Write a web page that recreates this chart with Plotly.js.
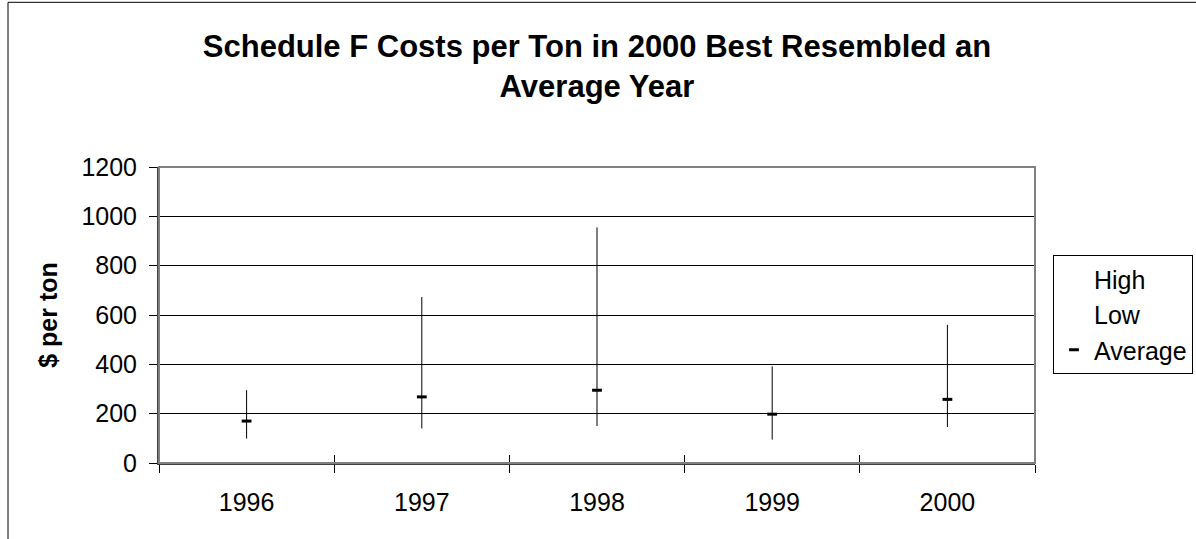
<!DOCTYPE html>
<html>
<head>
<meta charset="utf-8">
<script src="https://cdn.plot.ly/plotly-3.0.1.min.js"></script>
<style>
  html, body { margin: 0; padding: 0; background: #ffffff; }
  #chart { width: 1196px; height: 539px; }
</style>
</head>
<body>
<div id="chart"></div>
<script>
// Data
const years = ['1996', '1997', '1998', '1999', '2000'];
const highValues = [295, 673, 955, 392, 560];
const lowValues = [99, 140, 150, 95, 146];
const averageValues = [170, 268, 295, 198, 258];
const yTickValues = [0, 200, 400, 600, 800, 1000, 1200];

const FONT = 'Arial, "Liberation Sans", sans-serif';

// Build high-low connector segments from the arrays
const segX = [], segY = [];
years.forEach((yr, i) => {
  segX.push(yr, yr, null);
  segY.push(lowValues[i], highValues[i], null);
});

const traces = [
  {
    x: segX, y: segY, type: 'scatter', mode: 'lines',
    line: { color: '#000000', width: 1 },
    showlegend: false, hoverinfo: 'skip'
  },
  {
    name: 'High', x: years, y: highValues, type: 'scatter', mode: 'markers',
    xaxis: 'x2',
    marker: { size: 6, color: 'rgba(0,0,0,0)', line: { width: 0 } }
  },
  {
    name: 'Low', x: years, y: lowValues, type: 'scatter', mode: 'markers',
    marker: { size: 6, color: 'rgba(0,0,0,0)', line: { width: 0 } }
  },
  {
    name: 'Average', x: years, y: averageValues, type: 'scatter', mode: 'markers',
    marker: { symbol: 'line-ew', size: 7, color: '#000000', line: { color: '#000000', width: 3 } }
  }
];

const xCommon = {
  type: 'category',
  categoryorder: 'array', categoryarray: years,
  range: [-0.5, 4.5],
  showgrid: false, zeroline: false,
  tickson: 'boundaries', ticklen: 8, tickwidth: 1, tickcolor: '#000000',
  fixedrange: true
};

const layout = {
  width: 1196, height: 539,
  paper_bgcolor: '#ffffff', plot_bgcolor: '#ffffff',
  margin: { l: 159, r: 161, t: 167, b: 76 },
  font: { family: FONT, color: '#000000', size: 24 },
  title: {
    text: '<b>Schedule F Costs per Ton in 2000 Best Resembled an<br>Average Year</b>',
    font: { family: FONT, size: 31, color: '#000000' },
    x: 0.5, xref: 'paper', xanchor: 'center',
    y: 1 - 57 / 539, yref: 'container', yanchor: 'top'
  },
  xaxis: Object.assign({}, xCommon, {
    showline: true, linecolor: '#404040', linewidth: 2,
    ticks: 'outside', ticklabelstandoff: 16,
    tickfont: { family: FONT, size: 25, color: '#000000' }
  }),
  xaxis2: Object.assign({}, xCommon, {
    overlaying: 'x', anchor: 'y', side: 'bottom',
    showline: false, ticks: 'inside', showticklabels: false
  }),
  yaxis: {
    range: [0, 1200],
    tickvals: yTickValues,
    ticktext: yTickValues.map(String),
    showgrid: true, gridcolor: '#000000', gridwidth: 1,
    zeroline: false,
    showline: true, linecolor: '#404040', linewidth: 2,
    ticks: 'outside', ticklen: 8, tickwidth: 1, tickcolor: '#000000',
    ticklabelstandoff: 7,
    tickfont: { family: FONT, size: 25, color: '#000000' },
    title: { text: '<b>$ per ton</b>', font: { family: FONT, size: 25, color: '#000000' }, standoff: 17 },
    fixedrange: true
  },
  legend: {
    xref: 'container', yref: 'container',
    x: 1053 / 1196, xanchor: 'left',
    y: 1 - 255 / 539, yanchor: 'top',
    bgcolor: '#ffffff', bordercolor: '#000000', borderwidth: 1,
    font: { family: FONT, size: 25, color: '#000000' },
    itemwidth: 30
  },
  shapes: [
    // plot area border (gray top/right)
    { type: 'rect', xref: 'paper', yref: 'paper', x0: 0, x1: 1, y0: 0, y1: 1,
      line: { color: '#808080', width: 2 }, fillcolor: 'rgba(0,0,0,0)', layer: 'above' },
    // outer chart frame
    { type: 'rect', xref: 'paper', yref: 'paper',
      x0: (8 - 159) / 876, x1: (1210 - 159) / 876,
      y0: (462.7 - 560) / 296, y1: (462.7 - 2) / 296,
      line: { color: '#000000', width: 1 }, fillcolor: 'rgba(0,0,0,0)', layer: 'below' }
  ],
  showlegend: true,
  hovermode: false
};

Plotly.newPlot('chart', traces, layout, { displayModeBar: false, staticPlot: true });
</script>
</body>
</html>
